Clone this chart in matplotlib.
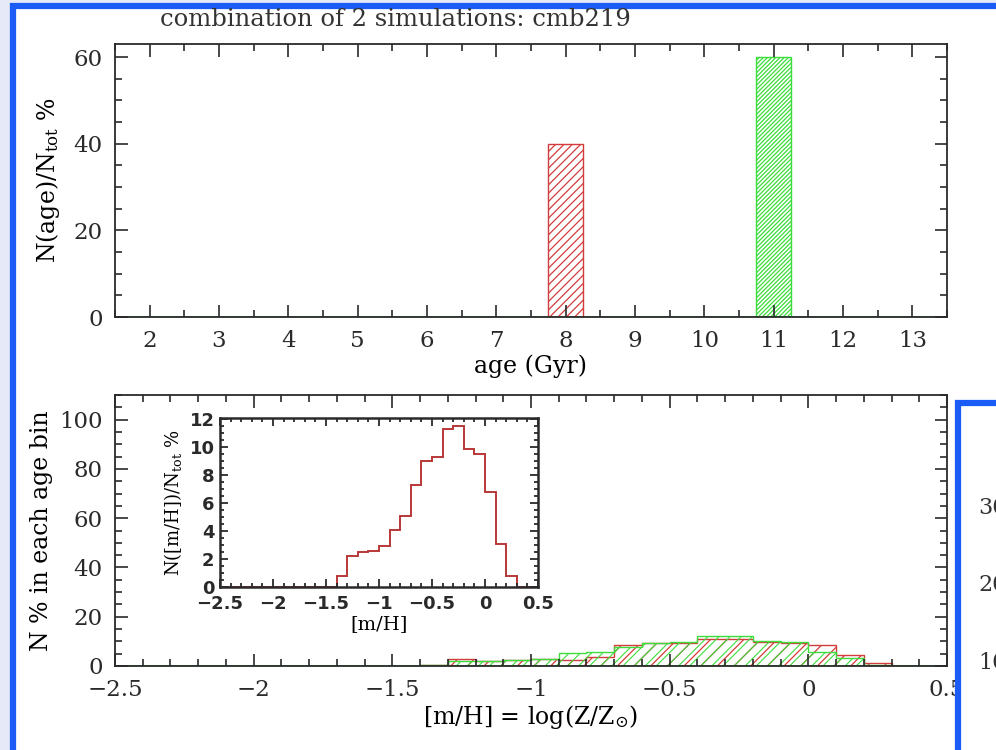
import matplotlib
matplotlib.use('Agg')
import matplotlib.pyplot as plt
from matplotlib.patches import Rectangle
from matplotlib.ticker import MultipleLocator, FuncFormatter
import numpy as np

# Age distribution of the two simulations (percent of total)
AGE_GYR = [8, 11]
AGE_FRAC = [40, 60]
AGE_COLORS = ["#d23c3c", "#3cdc3c"]

# [m/H] histograms per age bin (percent in each age bin), bins of 0.1 dex
MH_EDGES = [-1.4, -1.3, -1.2, -1.1, -1.0, -0.9, -0.8, -0.7, -0.6,
            -0.5, -0.4, -0.3, -0.2, -0.1, 0.0, 0.1, 0.2, 0.3]
MH_8GYR = [0.6, 2.7, 2.0, 2.3, 2.7, 2.5, 3.7, 8.7, 9.3,
           9.2, 10.9, 10.9, 9.8, 9.3, 8.5, 4.4, 1.4]
MH_11GYR = [0.4, 2.2, 2.0, 2.3, 2.8, 5.1, 5.7, 7.8, 9.3,
            9.6, 12.0, 12.0, 10.2, 9.6, 5.5, 3.4, 0.4]

# combined [m/H] distribution (inset), full range -2.5 .. 0.5
MH_ALL_EDGES = [-2.5, -2.4, -2.3, -2.2, -2.1, -2.0, -1.9, -1.8, -1.7, -1.6,
                -1.5, -1.4, -1.3, -1.2, -1.1, -1.0, -0.9, -0.8, -0.7, -0.6,
                -0.5, -0.4, -0.3, -0.2, -0.1, 0.0, 0.1, 0.2, 0.3, 0.4, 0.5]
MH_ALL = [0, 0, 0, 0, 0, 0, 0, 0, 0, 0,
          0, 0.8, 2.2, 2.5, 2.6, 2.9, 4.1, 5.1, 7.3, 9.0,
          9.3, 11.3, 11.5, 9.9, 9.5, 6.8, 3.1, 0.8, 0, 0]

BG = "#e6e9f8"
BLUE = "#1a5cf5"
INK = "#2a2a2a"

plt.rcParams['font.family'] = 'DejaVu Serif'
plt.rcParams['mathtext.fontset'] = 'dejavuserif'
plt.rcParams['axes.linewidth'] = 1.3
plt.rcParams['axes.edgecolor'] = INK
plt.rcParams['text.color'] = INK
plt.rcParams['xtick.color'] = INK
plt.rcParams['ytick.color'] = INK
plt.rcParams['hatch.linewidth'] = 0.9

# plain numbers with a proper minus sign: -2.5, -2, ..., 0, 0.5
short_fmt = FuncFormatter(lambda v, pos: ('%g' % v).replace('-', '\u2212'))


def px(x, y, w, h):
    """Axes rectangle from pixel box (left, top, width, height)."""
    return [x / 996, 1 - (y + h) / 750, w / 996, h / 750]


def style_axes(ax, size=16.5, pad=9):
    ax.tick_params(which='both', direction='in', top=True, right=True,
                   labelsize=size, pad=pad, width=1.2)
    ax.tick_params(which='major', length=9)
    ax.tick_params(which='minor', length=5)


fig = plt.figure(figsize=(9.96, 7.5), dpi=100)
fig.patch.set_facecolor(BG)

# white page with blue frame
fig.add_artist(Rectangle((13 / 996, -0.1), 1.2, 1.1 - 6 / 750,
                         transform=fig.transFigure, facecolor='white',
                         edgecolor=BLUE, linewidth=4.5, zorder=-5))

# ---- top panel: age histogram ----
ax1 = fig.add_axes(px(115, 44, 832, 273))
ax1.axhline(0, color=AGE_COLORS[1], lw=1.2, zorder=1)
for age, frac, c, h in zip(AGE_GYR, AGE_FRAC, AGE_COLORS, ['////', '////////']):
    ax1.bar(age, frac, width=0.5, fill=False, edgecolor=c, hatch=h,
            linewidth=1.0)
ax1.set_xlim(1.5, 13.5)
ax1.set_ylim(0, 63)
ax1.xaxis.set_major_locator(MultipleLocator(1))
ax1.xaxis.set_minor_locator(MultipleLocator(0.5))
ax1.yaxis.set_major_locator(MultipleLocator(20))
ax1.yaxis.set_minor_locator(MultipleLocator(5))
style_axes(ax1)
ax1.set_xlabel('age (Gyr)', fontsize=17, labelpad=2)
ax1.set_ylabel(r'N(age)/N$_{\rm tot}$ %', fontsize=17, labelpad=8)
fig.text(160 / 996, 1 - 20 / 750, 'combination of 2 simulations: cmb219',
         fontsize=17.5, va='center', ha='left', color='#333333')

# ---- bottom panel: [m/H] per age bin ----
ax2 = fig.add_axes(px(115, 395, 832, 271))
ax2.axhline(0, color=AGE_COLORS[1], lw=1.2, zorder=1)
ax2.stairs(MH_8GYR, MH_EDGES, fill=True, facecolor='none',
           edgecolor=AGE_COLORS[0], hatch='//', linewidth=1.0)
plt.rcParams['hatch.linewidth'] = 0.8
ax2.stairs(MH_11GYR, MH_EDGES, fill=True, facecolor='none',
           edgecolor=AGE_COLORS[1], hatch='///', linewidth=1.0)
ax2.set_xlim(-2.5, 0.5)
ax2.set_ylim(0, 110)
ax2.xaxis.set_major_locator(MultipleLocator(0.5))
ax2.xaxis.set_minor_locator(MultipleLocator(0.1))
ax2.xaxis.set_major_formatter(short_fmt)
ax2.yaxis.set_major_locator(MultipleLocator(20))
ax2.yaxis.set_minor_locator(MultipleLocator(5))
style_axes(ax2)
ax2.set_xlabel(r'[m/H] = log(Z/Z$_{\odot}$)', fontsize=17, labelpad=2)
ax2.set_ylabel('N % in each age bin', fontsize=17, labelpad=4)

# ---- inset: combined [m/H] distribution ----
ax3 = fig.add_axes(px(220, 418, 318, 169))
ax3.stairs(MH_ALL, MH_ALL_EDGES, color='#b83838', linewidth=1.4)
ax3.set_xlim(-2.5, 0.5)
ax3.set_ylim(0, 12.1)
ax3.xaxis.set_major_locator(MultipleLocator(0.5))
ax3.xaxis.set_minor_locator(MultipleLocator(0.1))
ax3.xaxis.set_major_formatter(short_fmt)
ax3.yaxis.set_major_locator(MultipleLocator(2))
ax3.yaxis.set_minor_locator(MultipleLocator(0.5))
ax3.tick_params(which='both', direction='in', top=True, right=True,
                labelsize=13, pad=4, width=1.3)
ax3.tick_params(axis='x', pad=6)
ax3.tick_params(which='major', length=6)
ax3.tick_params(which='minor', length=3)
for spine in ax3.spines.values():
    spine.set_linewidth(1.8)
for lab in ax3.get_xticklabels() + ax3.get_yticklabels():
    lab.set_family('DejaVu Sans')
    lab.set_fontweight('bold')
ax3.set_xlabel('[m/H]', fontsize=14, labelpad=1)
ax3.set_ylabel(r'N([m/H])/N$_{\rm tot}$ %', fontsize=13, labelpad=4)

# neighbouring panel on the right
fig.add_artist(Rectangle((958 / 996, -0.1), 0.2, 1.1 - 403 / 750,
                         transform=fig.transFigure, facecolor='white',
                         edgecolor=BLUE, linewidth=4.5, zorder=5))
for y, t in [(508, '30'), (585, '20'), (663, '10')]:
    fig.text(978 / 996, 1 - y / 750, t, fontsize=16, va='center',
             ha='left', color='#333333', zorder=6)

fig.savefig('out.png', dpi=100, facecolor=BG)
